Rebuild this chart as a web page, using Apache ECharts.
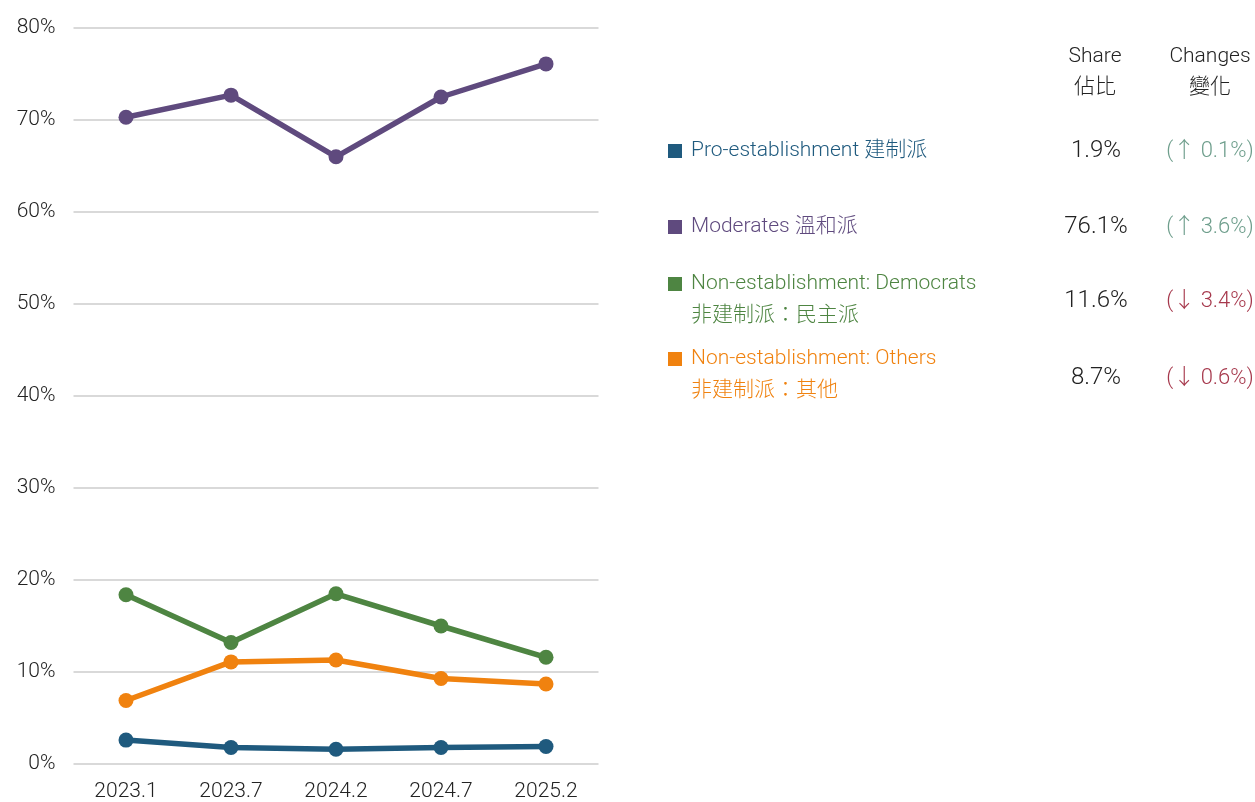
<!DOCTYPE html>
<html><head><meta charset="utf-8">
<script src="https://cdn.jsdelivr.net/npm/echarts@6/dist/echarts.min.js"></script>
<style>html,body{margin:0;padding:0;background:#fff}#c{width:1255px;height:802px}</style>
</head><body><div id="c"></div>
<script>
const categories = ['2023.1','2023.7','2024.2','2024.7','2025.2'];
const proEstablishment = [2.6, 1.8, 1.6, 1.8, 1.9];
const moderates = [70.3, 72.7, 66.0, 72.5, 76.1];
const democrats = [18.4, 13.2, 18.5, 15.0, 11.6];
const others = [6.9, 11.1, 11.3, 9.3, 8.7];
const yTicks = [0, 10, 20, 30, 40, 50, 60, 70, 80];
const seriesNames = ['Pro-establishment 建制派', 'Moderates 溫和派', 'Non-establishment: Democrats\n非建制派：民主派', 'Non-establishment: Others\n非建制派：其他'];
const shares = ['1.9%', '76.1%', '11.6%', '8.7%'];
const changes = ['(↑ 0.1%)', '(↑ 3.6%)', '(↓ 3.4%)', '(↓ 0.6%)'];
const changeUp = [true, true, false, false];
const headerShare = ['Share', '佔比'];
const headerChange = ['Changes', '變化'];

const colors = ['#1F5A7E', '#5F4A7E', '#4E8542', '#F0820F'];
const upColor = '#6E9E8C', downColor = '#A6384C';
const FONT = 'Roboto, "Noto Sans CJK TC", sans-serif';
const allData = [proEstablishment, moderates, democrats, others];

const chart = echarts.init(document.getElementById('c'));
const nameY = [[151], [227], [284, 316], [359, 391]];
const valueY = [151, 227, 301, 378];
const graphic = [];
function txt(s, x, y, color, size, align) {
  graphic.push({type:'text', x:x, y:y, style:{text:s, font:'300 '+size+'px '+FONT, fill:color, align:align||'left', verticalAlign:'middle'}});
}
headerShare.forEach((s, k) => txt(s, 1095, 57 + 31*k, '#222', 21, 'center'));
headerChange.forEach((s, k) => txt(s, 1210, 57 + 31*k, '#222', 21, 'center'));
seriesNames.forEach((n, i) => {
  const lines = n.split('\n');
  graphic.push({type:'rect', shape:{x:668, y:nameY[i][0]-7, width:14, height:14}, style:{fill:colors[i]}});
  lines.forEach((l, k) => txt(l, 691, nameY[i][k], colors[i], 21, 'left'));
  txt(shares[i], 1096, valueY[i], '#222', 24, 'center');
  txt(changes[i], 1210, valueY[i], changeUp[i] ? upColor : downColor, 22, 'center');
});

chart.setOption({
  animation:false,
  grid:{left:73.5, right:656.5, top:28, bottom:37},
  xAxis:{type:'category', data:categories, boundaryGap:true,
    axisLine:{show:false}, axisTick:{show:false},
    axisLabel:{color:'#222', fontSize:21, fontFamily:FONT, fontWeight:300, margin:17}},
  yAxis:{type:'value', min:yTicks[0], max:yTicks[yTicks.length-1], interval:10,
    axisLabel:{formatter:'{value}%', color:'#222', fontSize:21, fontFamily:FONT, fontWeight:300, margin:18},
    splitLine:{lineStyle:{color:'#D9D9D9', width:2}}},
  series: allData.map((d, i) => ({
    type:'line', name:seriesNames[i], data:d, color:colors[i],
    symbol:'circle', symbolSize:15, lineStyle:{width:5.5}, itemStyle:{color:colors[i]}
  })),
  graphic: graphic
});
</script></body></html>
